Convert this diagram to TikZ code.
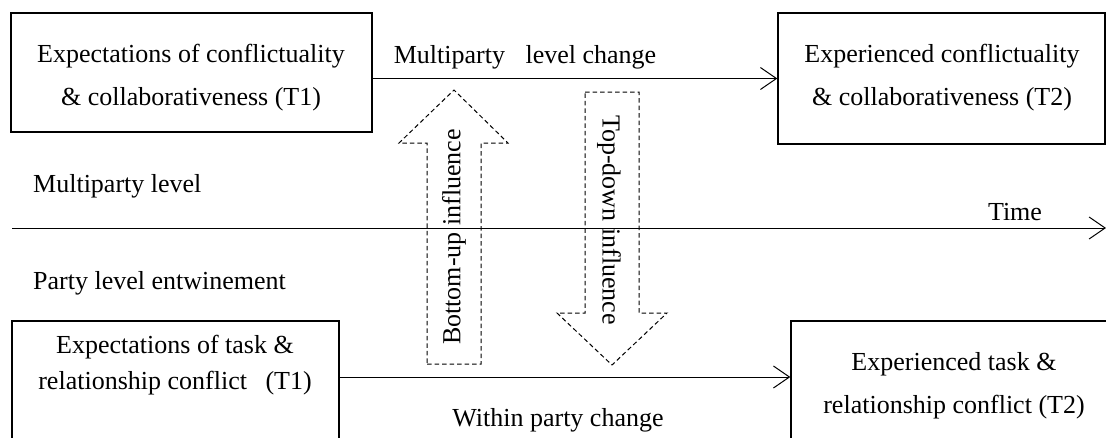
\documentclass[tikz,border=0pt]{standalone}
\usepackage{fontspec}
\setmainfont{Liberation Serif}
\usetikzlibrary{arrows.meta,calc}
\begin{document}
\begin{tikzpicture}[x=1pt,y=-1pt,
  boxx/.style={draw, line width=1.4pt, rectangle, inner sep=0pt},
  txt/.style={font=\fontsize{26}{43}\selectfont, align=center, inner sep=0pt},
  arr/.style={line width=1pt, -{Straight Barb[length=16pt,width=22pt]}},
  dsh/.style={dash pattern=on 4.5pt off 3pt, line width=1pt}]
\useasboundingbox (0,0) rectangle (1106,437);
\clip (0,0) rectangle (1106,437);
% boxes
\node[boxx, minimum width=361pt, minimum height=119pt] (b1) at (191.5,72.5) {};
\node[boxx, minimum width=327pt, minimum height=131pt] (b2) at (941.5,78.5) {};
\node[boxx, minimum width=327pt, minimum height=130pt] (b3) at (175.5,386) {};
\node[boxx, minimum width=326pt, minimum height=130pt] (b4) at (954,386) {};
% box texts
\node[txt] (t1) at (191,78) {Expectations of conflictuality\\ \& collaborativeness (T1)};
\node[txt] (t2) at (942,78) {Experienced conflictuality\\ \& collaborativeness (T2)};
\node[txt, font=\fontsize{26}{35.5}\selectfont] (t3) at (175,365) {Expectations of task \&\\ relationship conflict\hspace{12pt} (T1)};
\node[txt] (t4) at (954,386) {Experienced task \&\\ relationship conflict (T2)};
% connectors
\draw[arr] (b1.east |- b2.west) -- (b2.west);
\draw[arr] ([yshift=9pt]b3.east) -- ([yshift=9pt]b4.west);
\coordinate (a0) at (12,228);
\coordinate (a1) at (1106,228);
\draw[arr] (a0) -- (a1);
% labels
\node[txt, anchor=base] (l1) at (525,63) {Multiparty\hspace{14pt} level change};
\node[txt, anchor=base] (l2) at (558,426) {Within party change};
\node[txt, anchor=base] (tm) at (1015,220) {Time};
\node[txt, anchor=base west] (ml) at (33,192) {Multiparty level};
\node[txt, anchor=base west] (pl) at (33,289) {Party level entwinement};
% dashed block arrows
\draw[dsh] (427,364) -- (481,364) -- (481,143) -- (508,143) -- (454,90) -- (399,143) -- (427,143) -- cycle;
\draw[dsh] (585,92) -- (639,92) -- (639,313) -- (667,313) -- (612,365) -- (557,313) -- (585,313) -- cycle;
\node[txt, rotate=90] (bu) at (454,237) {Bottom-up influence};
\node[txt, rotate=-90] (td) at (609,220) {Top-down influence};
\end{tikzpicture}
\end{document}
